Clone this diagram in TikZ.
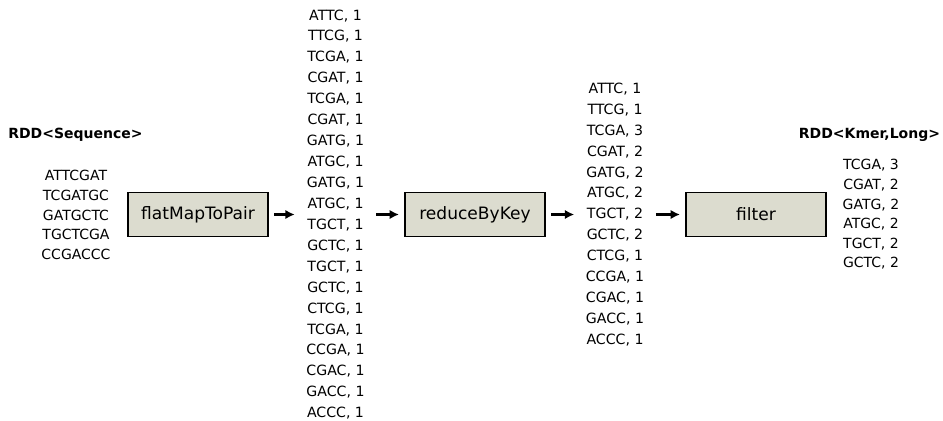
\documentclass[tikz,border=0pt]{standalone}
\usepackage{fontspec}
\setmainfont{DejaVu Sans}
\usetikzlibrary{arrows.meta}
\definecolor{opfill}{RGB}{220,220,207}

\begin{document}
\begin{tikzpicture}[x=0.75pt,y=-0.75pt,
	op/.style={draw=black,line width=1pt,fill=opfill,minimum width=105pt,minimum height=33pt,font=\fontsize{12.8}{14}\selectfont},
	pairs/.style={align=center,inner xsep=8.5pt,inner ysep=0pt,font=\fontsize{10.6}{15.7}\selectfont},
	reads/.style={align=center,inner sep=0pt,font=\fontsize{10.5}{14.7}\selectfont},
	rddname/.style={font=\fontsize{10.5}{12}\selectfont\bfseries},
	flow/.style={-{Latex[length=7pt,width=7pt]},line width=2pt}]
			
			\useasboundingbox (0,0) rectangle (943,421);
			
			% Input RDD
			\node (seqname) at (75.5,135) [rddname] {RDD<Sequence>};
			\node (seqs) at (76,215) [reads] {ATTCGAT\\TCGATGC\\GATGCTC\\TGCTCGA\\CCGACCC};
			
			% Operations
			\node (flat) at (198,214.5) [op] {flatMapToPair};
			\node (reduce) at (475,214.5) [op] {reduceByKey};
			\node (filt) at (756,214.5) [op] {filter};
			
			% Pairs after each step
			\node (kv1) at (335.5,214.5) [pairs] {ATTC, 1\\TTCG, 1\\TCGA, 1\\CGAT, 1\\TCGA, 1\\CGAT, 1\\GATG, 1\\ATGC, 1\\GATG, 1\\ATGC, 1\\TGCT, 1\\GCTC, 1\\TGCT, 1\\GCTC, 1\\CTCG, 1\\TCGA, 1\\CCGA, 1\\CGAC, 1\\GACC, 1\\ACCC, 1};
			\node (kv2) at (615,214.5) [pairs] {ATTC, 1\\TTCG, 1\\TCGA, 3\\CGAT, 2\\GATG, 2\\ATGC, 2\\TGCT, 2\\GCTC, 2\\CTCG, 1\\CCGA, 1\\CGAC, 1\\GACC, 1\\ACCC, 1};
			
			% Output RDD
			\node (kmername) at (869.5,135) [rddname] {RDD<Kmer,Long>};
			\node (kmers) at (871,214.5) [reads] {TCGA, 3\\CGAT, 2\\GATG, 2\\ATGC, 2\\TGCT, 2\\GCTC, 2};
			
			% Arrows
			\draw[flow,shorten <=4pt] (flat.east) -- (kv1.west);
			\draw[flow,shorten >=4pt] (kv1.east) -- (reduce.west);
			\draw[flow,shorten <=4pt] (reduce.east) -- (kv2.west);
			\draw[flow,shorten >=4pt] (kv2.east) -- (filt.west);
		\end{tikzpicture}
\end{document}
